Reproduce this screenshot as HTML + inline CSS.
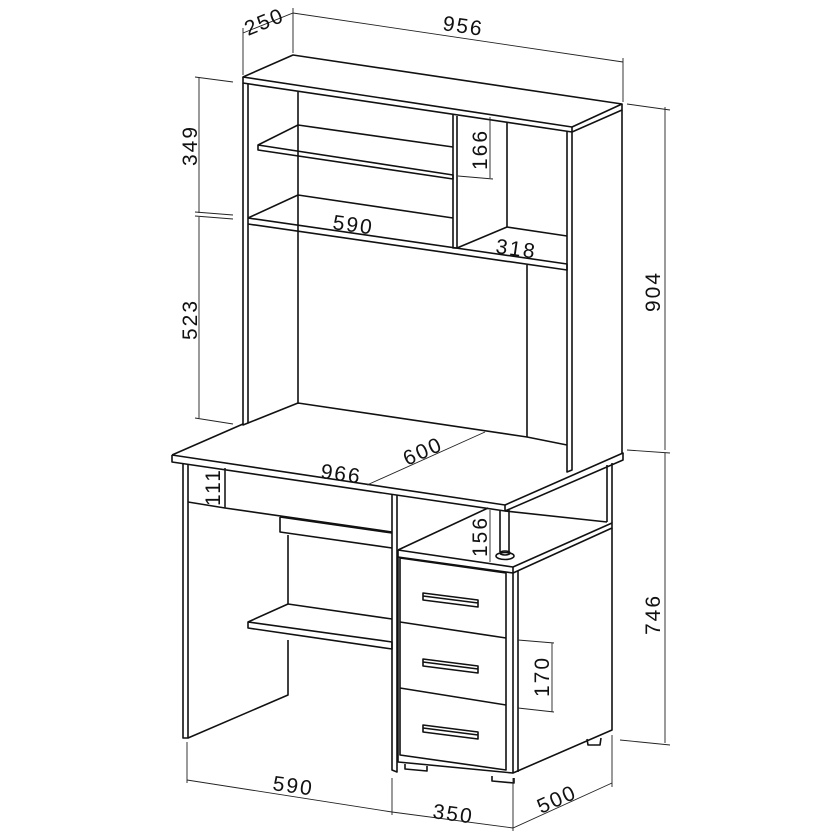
<!DOCTYPE html>
<html><head><meta charset="utf-8"><style>
html,body{margin:0;padding:0;background:#fff;}
svg{display:block;}
text{font-family:"Liberation Sans",sans-serif;font-size:21px;fill:#111;letter-spacing:2px;}
</style></head><body>
<svg width="833" height="833" viewBox="0 0 833 833" xmlns="http://www.w3.org/2000/svg">
<g fill="none" stroke="#111" stroke-width="1.6" stroke-linejoin="round">
<!-- HUTCH top panel -->
<path d="M243,77 L293,55 L622,104 L572,127 Z"/>
<path d="M243,77 L243,83 L572,132 L622,110 L622,104"/>
<path d="M572,127 L572,132"/>
<!-- left side panel -->
<path d="M243,83 L243,425 L248,423 L248,84"/>
<!-- back inner lines -->
<path d="M298,92 L298,403"/>
<path d="M298,403 L527,437 L567,445"/>
<path d="M248,423 L298,403"/>
<path d="M527,265 L527,437"/>
<!-- right side panel -->
<path d="M567,131 L567,472 L572,470 L572,132"/>
<path d="M622,110 L622,453"/>
<!-- upper shelf -->
<path d="M258,145 L298,125 L453,147"/>
<path d="M258,145 L453,175 L453,179 L258,150 Z"/>
<!-- middle divider -->
<path d="M453,115 L453,248 L457,248 L457,116"/>
<path d="M507,122 L507,227 L567,236"/>
<path d="M457,248 L507,227"/>
<!-- 590 shelf -->
<path d="M248,218 L298,195 L453,218"/>
<path d="M248,218 L567,264 L567,270 L248,224"/>
<!-- DESK top -->
<path d="M172,455 L243,424"/>
<path d="M298,404 L298,403"/>
<path d="M172,455 L505,505 L623,453 L622,453"/>
<path d="M172,455 L172,462 L505,511 L623,460 L623,453"/>
<path d="M505,505 L505,511"/>
<!-- left leg -->
<path d="M183,463 L183,738 L188,738 L188,464"/>
<path d="M188,738 L288,695 L288,640"/>
<path d="M288,604 L288,535"/>
<!-- drawer -->
<path d="M188,502 L225,508 L392,532"/>
<path d="M225,468 L225,508"/>
<path d="M280,517 L280,532 L392,548"/>
<path d="M280,517 L392,533"/>
<!-- lower shelf -->
<path d="M248,622 L288,604 L392,619"/>
<path d="M248,622 L392,642 L392,649 L248,628 Z"/>
<!-- divider -->
<path d="M392,494 L392,770 L397,772 L397,495"/>
<!-- pedestal top -->
<path d="M398,550 L488,508"/>
<path d="M398,550 L513,567 L612,523 L612,528 L513,573"/>
<path d="M398,550 L398,557 L513,573"/>
<path d="M505,511 L607,522"/>
<path d="M607,465 L607,522 M612,463 L612,523"/>
<!-- post -->
<path d="M500,511 L500,552 M509,510 L509,552"/>
<ellipse cx="505" cy="556" rx="9" ry="3.5"/>
<ellipse cx="505" cy="553" rx="5" ry="2"/>
<!-- pedestal body -->
<path d="M513,567 L513,773 L612,730 L612,528"/>
<path d="M518,571 L518,772"/>
<path d="M398,557 L398,762 L513,773"/>
<path d="M400,558 L506,573 L506,770 L400,755 Z"/>
<path d="M400,622 L506,638 M400,688 L506,705"/>
<!-- handles -->
<path d="M423,593 L478,600 L478,607 L423,600 Z M423,596 L478,603"/>
<path d="M423,659 L478,666 L478,673 L423,666 Z M423,662 L478,669"/>
<path d="M423,725 L478,732 L478,739 L423,732 Z M423,728 L478,735"/>
<!-- feet -->
<path d="M405,764 L405,769 L427,771 L427,766"/>
<path d="M492,776 L492,781 L514,783 L514,778"/>
<path d="M587,739 L588,745 L600,745 L601,738"/>
</g>
<!-- dimension lines -->
<g fill="none" stroke="#222" stroke-width="0.9">
<path d="M243,33 L293,13 L623,62"/>
<path d="M243,28 L243,75 M293,8 L293,53 M623,58 L623,102"/>
<path d="M199,77 L199,213 M199,217 L199,418"/>
<path d="M195,77 L233,82 M195,212 L233,215 M195,216 L233,219 M195,418 L233,424"/>
<path d="M665,107 L665,450 M665,453 L665,743"/>
<path d="M627,104 L670,110 M627,450 L670,453 M620,740 L670,745"/>
<path d="M490,117 L490,178 M458,176 L493,179"/>
<path d="M367,485 L485,432"/>
<path d="M225,468 L225,508"/>
<path d="M490,510 L490,562"/>
<path d="M552,643 L552,712 M518,640 L554,643 M518,708 L554,712"/>
<path d="M187,780 L392,812 L513,828 L612,783"/>
<path d="M187,742 L187,783 M392,778 L392,815 M513,778 L513,831 M612,735 L612,787"/>
</g>
<!-- labels -->
<text transform="translate(248,36) rotate(-22)">250</text>
<text transform="translate(442,30) rotate(8.5)">956</text>
<text transform="translate(197,166) rotate(-90)">349</text>
<text transform="translate(197,340) rotate(-90)">523</text>
<text transform="translate(660,312) rotate(-90)">904</text>
<text transform="translate(660,635) rotate(-90)">746</text>
<text transform="translate(487,170) rotate(-90)">166</text>
<text transform="translate(332,229) rotate(8)">590</text>
<text transform="translate(495,253) rotate(8)">318</text>
<text transform="translate(407,466) rotate(-24)">600</text>
<text transform="translate(320,478) rotate(8)">966</text>
<text transform="translate(220,506) rotate(-90)">111</text>
<text transform="translate(487,557) rotate(-90)">156</text>
<text transform="translate(549,697) rotate(-90)">170</text>
<text transform="translate(272,790) rotate(8)">590</text>
<text transform="translate(432,818) rotate(8)">350</text>
<text transform="translate(541,814) rotate(-24)">500</text>
</svg>
</body></html>
